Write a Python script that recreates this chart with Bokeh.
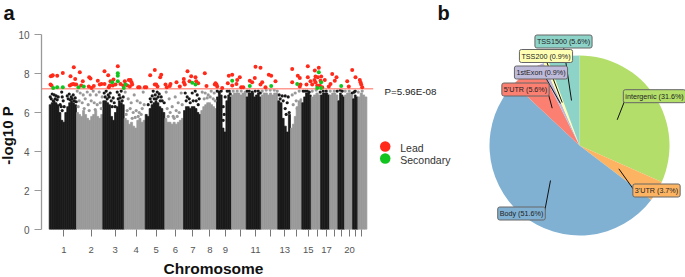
from math import pi
from bokeh.plotting import figure
from bokeh.models import Label, FixedTicker, Range1d
from bokeh.embed import file_html
from bokeh.resources import INLINE

FONT = "Liberation Sans"
chrom_widths = [27.3,26.3,21.4,21,19.6,18.7,17.3,15.7,15,14.7,15,16.6,12.7,11.3,9.4,9.4,9,8.3,6.7,8,5.3,9]
chrom_ticks = [14.6,42,66,87,107,126.3,143.6,160.6,176.3,191.6,206.3,221.3,235.6,247.6,259,268.3,277.3,285.6,292.6,300.3,306.6,312.3]
chrom_tick_labels = ["1","2","3","4","5","6","7","8","9","","11","","13","","15","","17","","","20","",""]
chrom_tops = [
 [6.4,6.5,6.6,6.5,6.4,6.0,5.6,5.5,6.0,6.3,6.5,6.6,6.5,6.4],
 [6.0,5.9,5.8,6.1,5.9,5.7,5.6,5.8,5.9,6.1,5.8,5.7,5.9],
 [6.6,6.6,6.5,6.4,5.8,5.6,6.0,6.3,6.6,6.5,6.4],
 [5.7,5.6,5.4,5.5,5.3,5.2,5.6,5.7,5.5,5.6],
 [5.9,5.8,6.2,6.4,6.5,6.6,6.5,6.3,6.2,6.0],
 [5.7,5.5,5.5,5.4,5.5,5.4,5.5,5.6,5.7],
 [6.1,6.3,6.3,6.2,6.3,6.3,6.2,6.0,5.9],
 [6.1,6.3,6.4,6.5,6.5,6.4,6.3,6.2],
 [6.8,7.0,6.9,5.2,5.0,6.6,6.9,6.8],
 [6.9,7.0,7.0,7.0,6.9,7.0,7.0],
 [6.8,7.0,7.0,7.0,6.8,6.9,7.0,6.8],
 [6.9,7.0,7.0,6.9,7.0,6.9,7.0,7.0],
 [6.6,6.5,5.7,5.3,5.0,5.9],
 [5.2,5.4,5.8,6.3,6.6,6.7],
 [6.5,6.8,7.0,7.0,6.9],
 [6.8,6.9,7.0,6.9],
 [6.9,7.0,7.0,7.0,6.9],
 [6.9,7.0,7.0,6.9],
 [6.6,7.0,6.9,6.8],
 [6.9,7.0,7.0,6.9],
 [6.7,6.9,6.8],
 [6.8,7.0,6.9,6.8],
]
black_x = [1,3,5,2,7,9,6,4,8,12.5,13,14,11,12,15,13,18,20,22,24,26,19,21,23,25,27,
 55,57,59,61,56,58,60,62,64,65,66,63,68,70,72,74,69,71,73,
 99,101,104,106,108,110,112,103,105,107,109,111,113,115,102,
 136,138,140,143,146,148,150,137,141,144,147,149,
 168,170,172,176,178,180,181,174,175,174,
 198,200,203,206,209,211,
 230,233,236,239,231,234,238,236,237,240,
 254,256,258,260,271,274,277,288,291,293,303,305,306]
black_y = [6.8,6.95,6.9,6.7,6.85,6.8,6.7,6.6,6.65,7.05,6.8,6.6,6.4,6.3,6.3,6.1,6.85,6.95,6.8,6.9,6.75,6.7,6.65,6.7,6.6,6.55,
 7.0,7.1,6.9,7.0,6.8,6.7,6.8,6.6,6.75,6.5,6.3,6.3,7.05,6.9,7.1,6.8,6.7,6.75,6.6,
 6.4,6.7,7.1,6.9,7.05,6.95,6.8,6.85,6.7,6.7,6.8,6.6,6.6,6.5,6.55,
 7.0,6.8,6.7,7.0,7.1,6.9,6.7,6.6,6.5,6.6,6.6,6.4,
 7.1,7.05,7.1,6.8,7.1,7.1,6.95,6.3,5.9,5.6,
 7.1,7.1,7.05,7.1,7.1,7.0,
 6.9,6.85,6.85,6.8,6.7,6.6,6.5,6.2,5.9,6.0,
 7.1,7.1,7.1,7.05,7.05,7.1,7.1,7.1,7.15,7.1,7.0,7.05,7.1]
grey_x = [28,31,34,38,41,44,47,50,53,30,33,36,39,42,45,48,51,29,35,40,46,52,
 76,79,82,85,88,91,94,78,81,84,87,90,93,77,83,86,89,92,95,
 117,120,123,126,129,132,118,121,124,127,130,133,119,125,128,
 153,156,159,162,165,155,158,161,164,166,
 184,188,192,196,213,217,221,225,228,243,246,250,244,247,248,
 263,267,281,285,296,300,309,313]
grey_y = [7.1,7.0,6.9,7.05,6.9,7.1,6.9,7.05,6.8,6.6,6.5,6.7,6.4,6.6,6.5,6.4,6.5,6.3,6.2,6.1,6.15,6.2,
 7.05,6.7,6.5,6.9,6.6,6.5,7.05,6.1,6.2,6.0,6.1,6.0,6.2,5.9,5.7,5.75,5.8,5.9,6.4,
 7.05,6.7,6.3,6.8,6.5,7.0,6.2,6.0,5.8,6.1,6.0,6.4,5.8,5.7,5.8,
 7.05,7.0,6.9,7.1,7.0,6.7,6.75,6.8,6.7,6.6,
 7.1,7.1,7.1,7.05,7.1,7.15,7.15,7.15,7.1,6.9,7.0,7.1,6.4,6.6,6.2,
 7.1,7.15,7.1,7.1,7.1,7.1,7.05,7.1]
lead_x = [1.6,3.0,3.6,8.0,13.6,24.6,21.3,26.0,30.6,1.3,2.3,20.6,22.3,24.0,25.6,27.0,33.6,32.0,40.0,41.3,44.6,42.3,48.6,50.6,55.3,59.0,52.3,55.3,60.6,61.3,64.3,68.6,63.6,66.3,71.3,74.0,75.6,79.6,80.6,78.0,39.6,59.6,
 81.3,82.3,83.0,89.0,90.3,95.6,97.0,101.0,105.6,111.0,112.0,105.6,107.0,108.3,116.3,117.6,120.6,121.3,127.3,130.6,134.6,134.6,135.6,138.3,142.0,140.3,146.3,147.0,155.6,157.3,165.6,149.0,
 166.3,167.3,168.0,173.0,179.6,183.0,178.6,183.0,188.0,187.3,190.6,192.0,194.0,200.6,203.0,206.3,211.3,205.6,211.3,213.0,219.6,222.0,216.3,226.3,243.0,248.6,250.6,243.0,250.6,
 258.6,269.6,258.6,265.6,266.3,272.0,268.6,261.3,265.3,271.3,275.6,283.0,287.3,285.6,281.3,279.6,298.0,299.6,303.0,306.3,310.6,311.3,312.0,251.3,257.3,263.0,268.0,273.0,266.3,270.6,313.0]
lead_y = [7.86,7.89,7.91,7.89,8.03,8.32,7.86,7.72,8.06,7.43,7.38,7.38,7.43,7.46,7.43,7.43,7.60,7.38,7.81,7.75,7.36,7.26,7.63,7.43,8.11,7.91,7.46,7.46,7.38,7.60,7.69,8.37,7.38,7.43,7.46,7.38,7.60,7.67,7.33,7.38,7.33,7.29,
 7.67,7.55,7.43,7.29,7.29,7.29,7.29,7.91,8.18,7.81,7.94,7.43,7.43,7.33,7.43,7.29,7.36,7.46,7.55,7.33,7.72,7.55,7.43,8.11,7.86,7.60,7.81,7.60,8.01,7.36,7.43,7.50,
 7.50,7.43,7.33,7.26,7.89,7.94,7.50,7.38,7.67,7.46,7.81,7.29,7.29,7.63,7.55,8.35,8.29,7.77,7.43,7.55,7.93,7.89,7.29,7.60,8.23,7.89,7.77,7.55,7.33,
 8.37,8.29,7.81,8.15,7.84,7.84,7.81,7.60,7.67,7.63,7.67,7.98,7.81,7.63,7.46,7.33,7.60,7.33,8.18,7.81,7.67,7.55,7.43,7.43,7.43,7.43,7.38,7.29,7.55,7.38,7.29]
secondary_x = [4.0,8.0,13.6,29.3,34.6,63.0,68.6,68.6,68.6,74.6,76.3,143.0,146.3,183.0,200.6,222.0,248.0,269.6,272.0,268.0,272.0,292.0]
secondary_y = [7.26,7.29,7.29,7.29,7.33,7.55,7.60,7.89,8.01,7.26,7.43,7.53,7.43,7.63,7.36,7.36,7.46,8.06,7.55,7.26,7.26,7.36]
threshold = 7.22

pie_labels = ["intergenic (31.6%)","3'UTR (3.7%)","Body (51.6%)","5'UTR (5.6%)","1stExon (0.9%)","TSS200 (0.9%)","TSS1500 (5.6%)"]
pie_values = [31.6,3.7,51.6,5.6,0.9,0.9,5.6]
pie_colors = ["#B3DE69","#FDB462","#80B1D3","#FB8072","#BEBADA","#FFFFB3","#8DD3C7"]
label_x = [75,77,-58,-54,-38.5,-33.5,-16]
label_y = [49.3,-45,-68,56,73,89.5,104]
leader_x0 = [45.3,54.3,-34.7,-31,-34,-33.3,-16]
leader_y0 = [45,-44.3,-65,51,68,85,99]
leader_x1 = [37.7,39.3,-29,-27.3,-19,-17.3,-8]
leader_y1 = [25.7,-23.3,-35,37.3,42,43,45]

BLACK, GREY = "#1a1a1a", "#999999"
p1 = figure(width=685, height=277, output_backend="svg", toolbar_location=None,
            x_range=Range1d(-7.7, 336.3), y_range=Range1d(0, 10),
            min_border_left=41, min_border_right=300, min_border_top=34, min_border_bottom=48,
            outline_line_color=None, background_fill_color=None, border_fill_color=None)
p1.grid.visible = False
ya = p1.yaxis[0]
ya.bounds = (0, 10)
ya.ticker = FixedTicker(ticks=[0, 2, 4, 6, 8, 10])
ya.axis_line_color = "#999999"; ya.axis_line_width = 1.3
ya.major_tick_line_color = "#999999"; ya.major_tick_line_width = 1.2
ya.major_tick_in = 0; ya.major_tick_out = 7; ya.minor_tick_line_color = None
ya.major_label_text_font = FONT; ya.major_label_text_font_size = "10px"
ya.major_label_text_color = "#555555"; ya.major_label_standoff = 5
ya.major_label_orientation = "horizontal"
xa = p1.xaxis[0]
xa.ticker = FixedTicker(ticks=chrom_ticks)
xa.major_label_overrides = dict(zip(chrom_ticks, chrom_tick_labels))
xa.axis_line_color = None; xa.minor_tick_line_color = None
xa.major_tick_line_color = "#777777"; xa.major_tick_line_width = 1
xa.major_tick_in = 0; xa.major_tick_out = 7
xa.major_label_text_font = FONT; xa.major_label_text_font_size = "9.5px"
xa.major_label_text_color = "#555555"; xa.major_label_standoff = 10

col_x, col_w, col_top, col_c = [], [], [], []
start = 0.0
for i, (w, tops) in enumerate(zip(chrom_widths, chrom_tops)):
    step = w / len(tops)
    for j, t in enumerate(tops):
        col_x.append(start + (j + 0.5) * step); col_w.append(step)
        col_top.append(t); col_c.append(BLACK if i % 2 == 0 else GREY)
    start += w
p1.vbar(x=col_x, width=col_w, bottom=0, top=col_top, color=col_c, line_color=col_c, line_width=0.7)
p1.scatter(grey_x, grey_y, size=3.2, color=GREY, line_color=None)
p1.scatter(black_x, black_y, size=3.2, color=BLACK, line_color=None)
p1.segment(x0=[-7.7], y0=[threshold], x1=[324], y1=[threshold], line_color="#ff9a90", line_width=1.4)
p1.scatter(lead_x, lead_y, size=4, color="#ff2a1a", line_color=None)
p1.scatter(secondary_x, secondary_y, size=4, color="#12c41f", line_color=None)

def lab(p, x, y, t, size, bold=False, color="#222222", align="left", base="middle", angle=0):
    p.add_layout(Label(x=x, y=y, text=t, text_font=FONT, text_font_size=size,
                       text_font_style="bold" if bold else "normal", text_color=color,
                       text_align=align, text_baseline=base, angle=angle))

p2 = figure(width=685, height=277, output_backend="svg", toolbar_location=None,
            x_range=Range1d(-579, 106), y_range=Range1d(-132, 145),
            min_border=0, outline_line_color=None, background_fill_color=None, border_fill_color=None,
            margin=(-277, 0, 0, 0))
p2.axis.visible = False
p2.grid.visible = False
total = sum(pie_values)
acc = 0.0
starts, ends = [], []
for v in pie_values:
    starts.append(pi/2 - 2*pi*acc/total)
    acc += v
    ends.append(pi/2 - 2*pi*acc/total)
p2.wedge(x=0, y=0, radius=90, start_angle=starts, end_angle=ends, direction="clock",
         fill_color=pie_colors, line_color=None)
p2.segment(x0=leader_x0, y0=leader_y0, x1=leader_x1, y1=leader_y1, line_color="#111111", line_width=1)
for x, y, t, c in zip(label_x, label_y, pie_labels, pie_colors):
    p2.add_layout(Label(x=x, y=y, text=t, text_font=FONT, text_font_size="7.2px", text_color="#222222",
                        text_align="center", text_baseline="middle", background_fill_color=c,
                        border_line_color="#666666", border_line_width=1, padding=2, border_radius=2))
lab(p2, -576, 133, "a", "20px", True, "#111111", base="alphabetic")
lab(p2, -142, 133, "b", "20px", True, "#111111", base="alphabetic")
lab(p2, -366, -122.5, "Chromosome", "15.5px", True, "#111111", "center", "alphabetic")
lab(p2, -572, 10, "-log10 P", "15px", True, "#111111", "center", "alphabetic", pi/2)
p2.scatter([-194.3], [-1], size=10.5, color="#ff2a1a", line_color=None)
p2.scatter([-194.3], [-13], size=10.5, color="#12c41f", line_color=None)
lab(p2, -195, 54.5, "P=5.96E-08", "9.8px")
lab(p2, -179.3, -2.3, "Lead", "10.5px", color="#333333")
lab(p2, -179.3, -14, "Secondary", "10.5px", color="#333333")

open("out.html", "w").write(file_html([p1, p2], INLINE))
